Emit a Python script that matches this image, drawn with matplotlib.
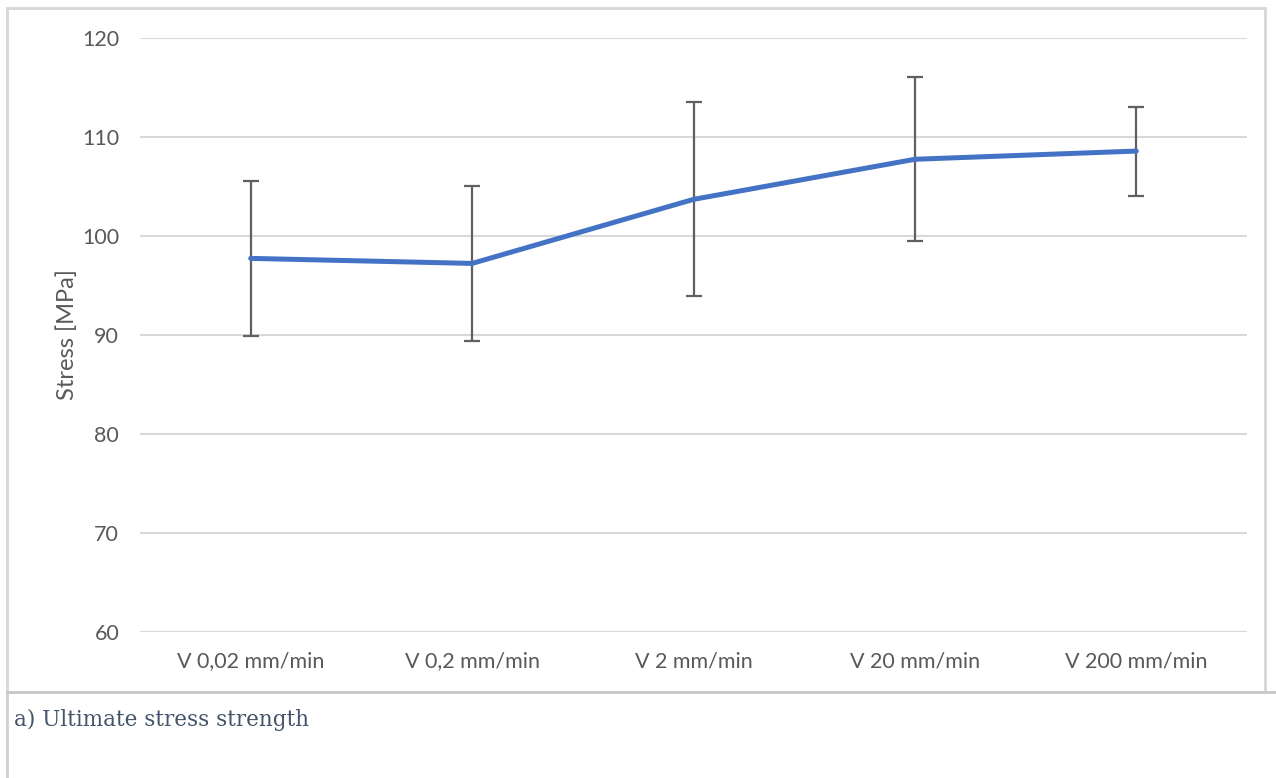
import matplotlib.pyplot as plt
from matplotlib.patches import Rectangle
from matplotlib.lines import Line2D

# crosshead speeds and measured ultimate stress (mean +/- std)
speeds = ['V 0,02 mm/min', 'V 0,2 mm/min', 'V 2 mm/min', 'V 20 mm/min', 'V 200 mm/min']
stress = [97.74, 97.23, 103.7, 107.75, 108.58]
stress_err = [7.8, 7.8, 9.8, 8.3, 4.5]
y_ticks = [60, 70, 80, 90, 100, 110, 120]

W, H = 1276, 778
fig = plt.figure(figsize=(W / 100, H / 100), dpi=100)
fig.patch.set_facecolor('white')

# chart frame and caption frame
fig.patches.append(Rectangle((7 / W, 1 - 692 / H), 1258 / W, 684 / H, transform=fig.transFigure,
                             fill=False, edgecolor='#d6d6d6', lw=2))
fig.lines.append(Line2D([7 / W, 7 / W], [0, 1 - 692 / H], transform=fig.transFigure,
                        color='#d0d0d0', lw=2))
fig.lines.append(Line2D([7 / W, 1], [1 - 692 / H, 1 - 692 / H], transform=fig.transFigure,
                        color='#c8c8c8', lw=2))

ax = fig.add_axes([140 / W, 1 - 632 / H, 1107 / W, 594 / H])
x = range(len(speeds))
ax.errorbar(x, stress, yerr=stress_err, fmt='none', ecolor='#606060', elinewidth=1.6,
            capsize=6, capthick=1.6, zorder=2)
ax.plot(x, stress, color='#4472C4', lw=3.6, solid_capstyle='round', zorder=3)

ax.set_xlim(-0.5, len(speeds) - 0.5)
ax.set_ylim(60, 120)
ax.set_yticks(y_ticks)
ax.set_xticks(list(x))
ax.set_xticklabels(speeds)
ax.grid(axis='y', color='#d9d9d9', lw=1.5)
ax.set_axisbelow(True)
for s in ax.spines.values():
    s.set_visible(False)
ax.tick_params(length=0, labelsize=15.5, labelcolor='#595959')
for lbl in ax.get_xticklabels() + ax.get_yticklabels():
    lbl.set_family('Lato')
ax.tick_params(axis='y', pad=15)
ax.tick_params(axis='x', pad=14)
ax.set_ylabel('Stress [MPa]', fontsize=17, color='#595959', family='Lato', labelpad=3)

fig.text(14 / W, 1 - 720 / H, 'a) Ultimate stress strength', family='DejaVu Serif',
         fontsize=15.5, color='#44546A', va='center', ha='left')

fig.savefig('out.png', dpi=100, facecolor='white')
